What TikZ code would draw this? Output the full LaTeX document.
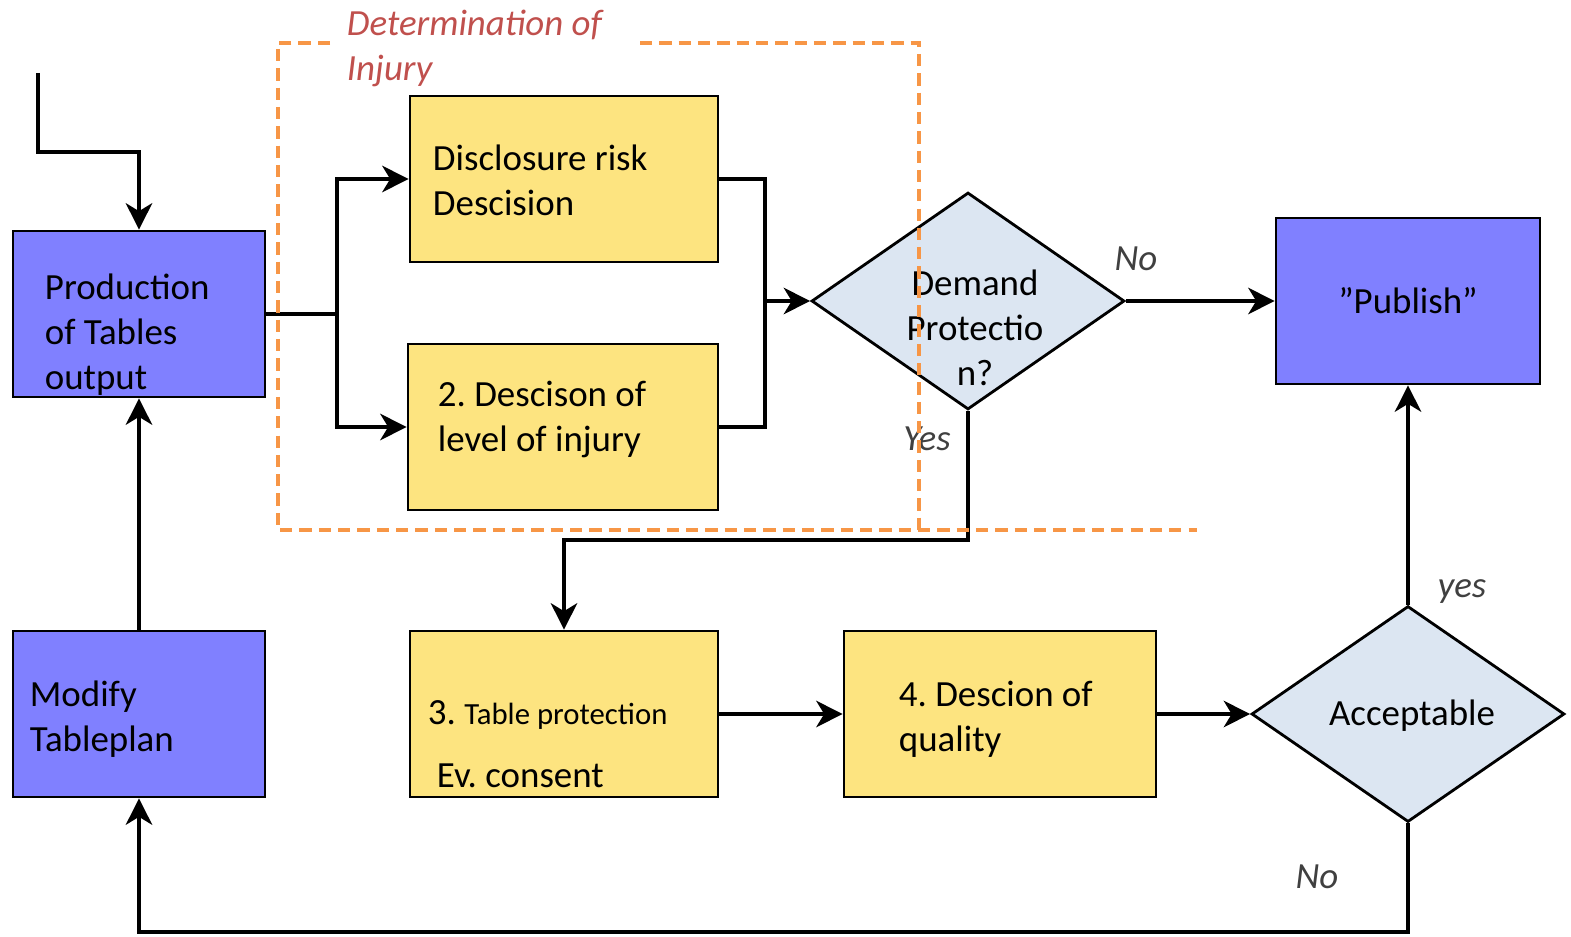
\documentclass[tikz,border=0pt]{standalone}
\usepackage{fontspec}
\setmainfont{Carlito}
\frenchspacing
\usetikzlibrary{arrows.meta,shapes.geometric}
\definecolor{boxblue}{RGB}{128,128,255}
\definecolor{boxyellow}{RGB}{253,228,128}
\definecolor{decblue}{RGB}{220,230,242}
\definecolor{grporange}{RGB}{247,150,70}
\definecolor{ttlred}{RGB}{192,80,77}
\definecolor{lblgray}{RGB}{64,64,64}
\newcommand{\boxfont}{\fontsize{21}{25.6}\selectfont}
\tikzset{
    %Define standard arrow tip
    >={Stealth[length=15pt,width=15pt,inset=4.5pt]},
    bluebox/.style={
      rectangle,
      draw=black, line width=1.6pt,
      fill=boxblue,
      minimum width=5.04cm,
      minimum height=3.32cm},
    yellowbox/.style={
      rectangle,
      draw=black, line width=1.6pt,
      fill=boxyellow,
      minimum height=3.32cm},
    decision/.style={
      diamond,
      draw=black, line width=1.6pt,
      fill=decblue,
      inner sep=0pt},
    txt/.style={
      anchor=west, align=left, inner sep=0pt,
      font=\boxfont},
    lbl/.style={
      text=lblgray, inner sep=0pt,
      font=\boxfont\itshape},
    grp/.style={
      draw=grporange, line width=1.9pt,
      dash pattern=on 7pt off 4pt},
}

\begin{document}
\begin{tikzpicture}[x=0.02cm,y=-0.02cm,line width=2.2pt]
    \useasboundingbox (0,0) rectangle (1571,936);
    % boxes
    \node (prod) [bluebox] at (139,314) {};
    \node (mod) [bluebox] at (139,714) {};
    \node (disc) [yellowbox, minimum width=6.16cm] at (564,179) {};
    \node (level) [yellowbox, minimum width=6.2cm] at (563,427) {};
    \node (tab) [yellowbox, minimum width=6.16cm] at (564,714) {};
    \node (qual) [yellowbox, minimum width=6.24cm] at (1000,714) {};
    \node (pub) [bluebox, minimum width=5.28cm, font=\boxfont] at (1408,301)
          {”Publish”};
    \node (dem) [decision, minimum width=6.26cm, minimum height=4.34cm] at (968,301) {};
    \node (acc) [decision, minimum width=6.26cm, minimum height=4.32cm] at (1408,714) {};
    % texts
    \node (prodtxt) [txt] at (43,335) {Production\\of Tables\\output};
    \node (modtxt) [txt] at (28,719) {Modify\\Tableplan};
    \node (disctxt) [txt] at (431,180) {Disclosure risk\\Descision};
    \node (leveltxt) [txt] at (436,419) {2. Descison of\\level of injury};
    \node (tabtxt) [txt] at (426,715) {3. {\fontsize{17.5}{21}\selectfont Table protection}};
    \node (evtxt) [txt] at (435,776) {Ev. consent};
    \node (qualtxt) [txt] at (897,719) {4. Descion of\\quality};
    \node (demtxt) [txt, align=center, anchor=center] at (975,328) {Demand\\Protectio\\n?};
    \node (acctxt) [txt, anchor=center] at (1412,716) {Acceptable};
    \node (ttl) [txt, text=ttlred, font=\boxfont\itshape] at (345,48)
          {Determination of\\Injury};
    \node (no1) [lbl] at (1136,259) {No};
    \node (yes1) [lbl] at (927,439) {Yes};
    \node (yes2) [lbl] at (1462,592) {yes};
    \node (no2) [lbl] at (1317,877) {No};
    % connectors
    \coordinate (start) at (38,73);
    \coordinate (split) at (337,314);
    \coordinate (merge) at (765,301);
    \draw[->] (start) -- ++(0,79) -| (prod.north);
    \draw (prod.east) -- (split);
    \draw[->] (split) |- (disc.west);
    \draw[->] (split) |- (level.west);
    \draw (disc.east) -| (merge);
    \draw (level.east) -| (merge);
    \draw[->] (merge) -- (dem.west);
    \draw[->] (dem.east) -- (pub.west);
    \draw[->] (dem.south) -- ++(0,129) -| (tab.north);
    \draw[->] (tab.east) -- (qual.west);
    \draw[->] (qual.east) -- (acc.west);
    \draw[->] (acc.north) -- (pub.south);
    \draw[->] (acc.south) -- ++(0,109) -| (mod.south);
    \draw[->] (mod.north) -- (prod.south);
    % determination group
    \draw[grp] (330,43) -- (278,43) -- (278,530) -- (1197,530);
    \draw[grp] (640,43) -- (919,43) -- (919,530);
\end{tikzpicture}
\end{document}
